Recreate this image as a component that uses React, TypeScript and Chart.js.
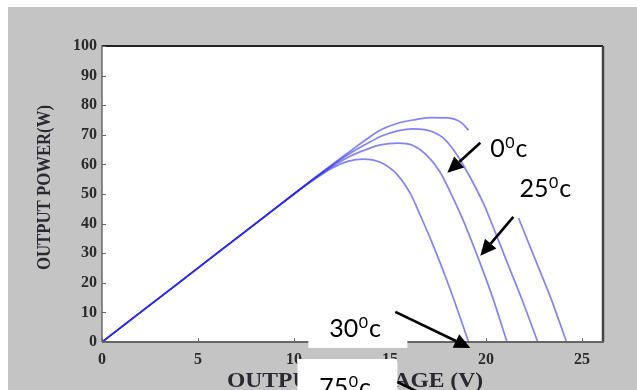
import React, { useEffect, useRef } from "react";
import { Chart, registerables } from "chart.js";
Chart.register(...registerables);

// Output voltage (V) / output power (W) for each temperature curve
const v0C = [0, 2, 4, 6, 8, 10, 11, 12, 13, 14, 14.5, 15.4, 16.2, 17.1, 18, 18.7, 19.1, 20.4, 21.7, 22.5, 23.4, 24.2];
const p0C = [0, 10, 20, 30, 40, 50, 55, 60, 64.8, 69.5, 71.6, 73.9, 75, 75.8, 75.7, 74.2, 71.6, null, 41.9, 29, 14.5, 0];

const v25C = [0, 2, 4, 6, 8, 10, 11, 12, 13, 14, 14.5, 15.4, 16.2, 17.1, 17.8, 18.5, 19.2, 19.9, 20.4, 21.1, 21.9, 22.7];
const p25C = [0, 10, 20, 30, 40, 50, 55, 59.7, 64, 67.7, 69.4, 71.3, 72, 71.3, 68.8, 63.2, 55.4, 46.4, 38.5, 27, 14, 0];

const v30C = [0, 2, 4, 6, 8, 10, 11, 12, 13, 14, 14.5, 15.4, 16.2, 16.9, 17.6, 18.3, 18.85, 19.5, 20.3, 21.1];
const p30C = [0, 10, 20, 30, 40, 50, 55, 59.3, 63, 65.6, 66.6, 67.2, 66.4, 63.2, 57.5, 48.5, 40.6, 30, 16, 0];

const v75C = [0, 2, 4, 6, 8, 10, 11, 12, 12.8, 13.6, 14.5, 15.4, 16.1, 16.6, 17.2, 18.1, 19.1];
const p75C = [0, 10, 20, 30, 40, 50, 54.6, 58.8, 61, 61.8, 60.7, 56.4, 49.7, 42.5, 33.5, 18.5, 0];

const VOLT_TICKS = [0, 5, 10, 15, 20, 25];
const POWER_TICKS = [0, 10, 20, 30, 40, 50, 60, 70, 80, 90, 100];
const TEMP_LABELS = ["0", "25", "30", "75"];
const X_TITLE = "OUTPUT VOLTAGE (V)";
const Y_TITLE = "OUTPUT POWER(W)";

const toPoints = (v: number[], p: (number | null)[]) => v.map((x, i) => ({ x, y: p[i] }));

function drawArrow(ctx: CanvasRenderingContext2D, x1: number, y1: number, x2: number, y2: number) {
  const ang = Math.atan2(y2 - y1, x2 - x1);
  const hl = 16, hw = 7.5;
  const bx = x2 - hl * Math.cos(ang), by = y2 - hl * Math.sin(ang);
  ctx.beginPath();
  ctx.moveTo(x1, y1);
  ctx.lineTo(bx, by);
  ctx.stroke();
  ctx.beginPath();
  ctx.moveTo(x2, y2);
  ctx.lineTo(bx + hw * Math.sin(ang), by - hw * Math.cos(ang));
  ctx.lineTo(bx - hw * Math.sin(ang), by + hw * Math.cos(ang));
  ctx.closePath();
  ctx.fill();
}

function drawTemp(ctx: CanvasRenderingContext2D, x: number, y: number, num: string) {
  ctx.textAlign = "left";
  ctx.textBaseline = "alphabetic";
  ctx.font = '25px Lato';
  ctx.fillText(num, x, y);
  const w1 = ctx.measureText(num).width;
  ctx.font = '16px Lato';
  ctx.fillText("0", x + w1 + 0.5, y - 9);
  const w2 = ctx.measureText("0").width;
  ctx.font = '25px Lato';
  ctx.fillText("c", x + w1 + w2 + 1.5, y);
}

function fitText(ctx: CanvasRenderingContext2D, text: string, cx: number, cy: number, width: number, rot: number) {
  ctx.save();
  ctx.translate(cx, cy);
  ctx.rotate(rot);
  const m = ctx.measureText(text).width;
  ctx.scale(width / m, 1);
  ctx.textAlign = "center";
  ctx.textBaseline = "alphabetic";
  ctx.fillText(text, 0, 0);
  ctx.restore();
}

const framePlugin = {
  id: "frame",
  beforeDraw(chart: any) {
    const { ctx, chartArea: a, width, height } = chart;
    ctx.save();
    ctx.fillStyle = "#c4c4c4";
    ctx.fillRect(0, 0, width, height);
    ctx.fillStyle = "#ffffff";
    ctx.fillRect(a.left, a.top, a.right - a.left, a.bottom - a.top);
    ctx.restore();
  },
  afterDatasetsDraw(chart: any) {
    const { ctx, chartArea: a, scales } = chart;
    ctx.save();
    ctx.lineCap = "butt";
    ctx.strokeStyle = "#222";
    ctx.lineWidth = 2;
    ctx.beginPath(); ctx.moveTo(a.left, a.top); ctx.lineTo(a.right, a.top); ctx.stroke();
    ctx.strokeStyle = "#444";
    ctx.lineWidth = 2.5;
    ctx.beginPath(); ctx.moveTo(a.right, a.top); ctx.lineTo(a.right, a.bottom); ctx.stroke();
    ctx.strokeStyle = "#666";
    ctx.lineWidth = 2;
    ctx.beginPath(); ctx.moveTo(a.left, a.bottom); ctx.lineTo(a.right + 1, a.bottom); ctx.stroke();
    ctx.strokeStyle = "#555";
    ctx.lineWidth = 1.3;
    ctx.beginPath(); ctx.moveTo(a.left, a.top - 1); ctx.lineTo(a.left, a.bottom); ctx.stroke();
    ctx.strokeStyle = "#666";
    ctx.lineWidth = 1;
    VOLT_TICKS.forEach((v) => {
      const px = Math.round(scales.x.getPixelForValue(v)) + 0.5;
      ctx.beginPath(); ctx.moveTo(px, a.bottom); ctx.lineTo(px, a.bottom - 4); ctx.stroke();
    });
    POWER_TICKS.forEach((v) => {
      const py = Math.round(scales.y.getPixelForValue(v)) + 0.5;
      ctx.beginPath(); ctx.moveTo(a.left, py); ctx.lineTo(a.left + 4, py); ctx.stroke();
    });
    ctx.restore();
  },
  afterDraw(chart: any) {
    const { ctx, chartArea: a, scales } = chart;
    const X = (v: number) => scales.x.getPixelForValue(v);
    const Y = (p: number) => scales.y.getPixelForValue(p);
    ctx.save();
    ctx.fillStyle = "#2a2830";
    ctx.font = 'bold 20px "Liberation Serif"';
    fitText(ctx, X_TITLE, (a.left + a.right) / 2 + 2.5, a.bottom + 45, 256, 0);
    ctx.font = 'bold 18px "Liberation Serif"';
    fitText(ctx, Y_TITLE, 42, (a.top + a.bottom) / 2 - 6.5, 165, -Math.PI / 2);

    ctx.fillStyle = "#ffffff";
    ctx.fillRect(X(10.75), Y(11.5), X(15.91) - X(10.75), Y(-2.0) - Y(11.5));
    ctx.fillRect(X(10.18), Y(-5.75), X(15.39) - X(10.18), Y(-22) - Y(-5.75));

    ctx.strokeStyle = "#000";
    ctx.fillStyle = "#000";
    ctx.lineWidth = 2.6;
    drawArrow(ctx, X(19.71), Y(67.3), X(17.99), Y(57.2));
    drawArrow(ctx, X(21.43), Y(42.3), X(19.71), Y(29.1));
    drawArrow(ctx, X(15.28), Y(10.2), X(19.19), Y(-2.0));
    drawArrow(ctx, X(15.39), Y(-13.5), X(17.9), Y(-21.5));

    ctx.fillStyle = "#000";
    drawTemp(ctx, X(20.23), Y(62.6), TEMP_LABELS[0]);
    drawTemp(ctx, X(21.75), Y(49.1), TEMP_LABELS[1]);
    drawTemp(ctx, X(11.84), Y(1.7), TEMP_LABELS[2]);
    drawTemp(ctx, X(11.32), Y(-18.3), TEMP_LABELS[3]);
    ctx.restore();
  },
};

export default function App() {
  const ref = useRef<HTMLCanvasElement | null>(null);
  useEffect(() => {
    if (!ref.current) return;
    const lineColor = "rgba(30, 30, 235, 0.55)";
    const mk = (label: string, v: number[], p: (number | null)[]) => ({
      label,
      data: toPoints(v, p),
      showLine: true,
      borderColor: lineColor,
      backgroundColor: lineColor,
      borderWidth: 1.7,
      pointRadius: 0,
      cubicInterpolationMode: "monotone" as const,
      spanGaps: false,
    });
    const tickFont = { family: '"Liberation Serif"', size: 16, weight: "bold" as const };
    const chart = new Chart(ref.current, {
      type: "scatter",
      data: {
        datasets: [
          mk("0°C", v0C, p0C),
          mk("25°C", v25C, p25C),
          mk("30°C", v30C, p30C),
          mk("75°C", v75C, p75C),
        ],
      },
      options: {
        animation: false,
        responsive: false,
        events: [],
        layout: { padding: { top: 39, right: 34, left: 0, bottom: 0 } },
        plugins: { legend: { display: false }, tooltip: { enabled: false } },
        scales: {
          x: {
            type: "linear",
            min: 0,
            max: 26.1,
            afterBuildTicks: (s: any) => { s.ticks = VOLT_TICKS.map((value) => ({ value })); },
            afterFit: (s: any) => { s.height = 48; },
            grid: { display: false, drawTicks: false },
            border: { display: false },
            ticks: { font: tickFont, color: "#2a2a2a", padding: 8, maxRotation: 0, autoSkip: false },
          },
          y: {
            type: "linear",
            min: 0,
            max: 100,
            afterBuildTicks: (s: any) => { s.ticks = POWER_TICKS.map((value) => ({ value })); },
            afterFit: (s: any) => { s.width = 94; },
            grid: { display: false, drawTicks: false },
            border: { display: false },
            ticks: { font: tickFont, color: "#2a2a2a", padding: 5, autoSkip: false },
          },
        },
      },
      plugins: [framePlugin],
    });
    return () => chart.destroy();
  }, []);
  return (
    <div style={{ position: "absolute", left: 8, top: 7, width: 629, height: 383 }}>
      <canvas ref={ref} width={629} height={383} style={{ display: "block", width: 629, height: 383 }} />
    </div>
  );
}
